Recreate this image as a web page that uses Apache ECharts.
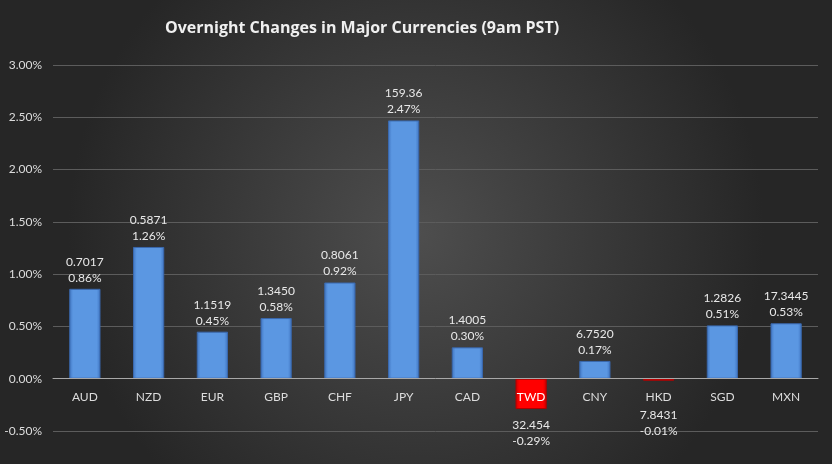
<!DOCTYPE html>
<html>
<head>
<meta charset="utf-8">
<script src="https://cdn.jsdelivr.net/npm/echarts@6/dist/echarts.min.js"></script>
<style>
  html, body { margin: 0; padding: 0; }
  #main { width: 832px; height: 464px; }
</style>
</head>
<body>
<div id="main"></div>
<script>
// currencies and overnight moves
var categories = ['AUD', 'NZD', 'EUR', 'GBP', 'CHF', 'JPY', 'CAD', 'TWD', 'CNY', 'HKD', 'SGD', 'MXN'];
var rates = ['0.7017', '0.5871', '1.1519', '1.3450', '0.8061', '159.36', '1.4005', '32.454', '6.7520', '7.8431', '1.2826', '17.3445'];
var changes = [0.86, 1.26, 0.45, 0.58, 0.92, 2.47, 0.30, -0.29, 0.17, -0.01, 0.51, 0.53];
var yTicks = [-0.5, 0, 0.5, 1, 1.5, 2, 2.5, 3];

var chartDom = document.getElementById('main');
var myChart = echarts.init(chartDom);
var font = 'Lato, "Open Sans", sans-serif';

var blueFill = new echarts.graphic.LinearGradient(0, 0, 1, 0, [
  { offset: 0, color: '#3f74c0' },
  { offset: 0.12, color: '#5b97e2' },
  { offset: 0.88, color: '#5b97e2' },
  { offset: 1, color: '#3f74c0' }
]);
var redFill = new echarts.graphic.LinearGradient(0, 0, 1, 0, [
  { offset: 0, color: '#c80000' },
  { offset: 0.12, color: '#ff0000' },
  { offset: 0.88, color: '#ff0000' },
  { offset: 1, color: '#c80000' }
]);

var barData = changes.map(function (v, i) {
  var neg = v < 0;
  return {
    value: v,
    itemStyle: {
      color: neg ? redFill : blueFill,
      borderColor: neg ? '#b00000' : '#3a68ad',
      borderWidth: 1
    },
    label: {
      position: neg ? 'bottom' : 'top',
      distance: neg ? (v > -0.05 ? 26 : 8) : 3
    }
  };
});

var gridTop = 65, gridBottom = 33, chartH = 464;
var plotH = chartH - gridTop - gridBottom;
// shift the category axis up to the zero line
var zeroShift = plotH * (0 - yTicks[0]) / (yTicks[yTicks.length - 1] - yTicks[0]);

var option = {
  backgroundColor: new echarts.graphic.RadialGradient(0.5, 0.5, 0.75, [
    { offset: 0, color: '#4e4e4e' },
    { offset: 1, color: '#262626' }
  ]),
  textStyle: { fontFamily: font },
  title: {
    text: 'Overnight Changes in Major Currencies (9am PST)',
    left: 357,
    top: 15,
    textAlign: 'center',
    textStyle: { color: '#f0f0f0', fontSize: 16, fontWeight: 'bold', fontFamily: '"Open Sans", sans-serif' }
  },
  grid: { left: 53, right: 14, top: gridTop, bottom: gridBottom, containLabel: false },
  xAxis: {
    type: 'category',
    data: categories,
    z: 10,
    offset: -zeroShift,
    axisLine: { onZero: false, lineStyle: { color: '#a8a8a8', width: 1 } },
    axisTick: { show: false },
    axisLabel: {
      interval: 0,
      color: '#dcdcdc',
      fontSize: 12,
      margin: 12,
      formatter: function (val) {
        return val === 'TWD' ? '{red|' + val + '}' : val;
      },
      rich: {
        red: { color: '#ffffff', fontSize: 12 }
      }
    }
  },
  yAxis: {
    type: 'value',
    min: yTicks[0],
    max: yTicks[yTicks.length - 1],
    interval: 0.5,
    axisLine: { show: false },
    axisTick: { show: false },
    splitLine: { lineStyle: { color: '#5c5c5c', width: 1 } },
    axisLabel: {
      color: '#dcdcdc',
      fontSize: 12,
      margin: 11,
      formatter: function (v) { return v.toFixed(2) + '%'; }
    }
  },
  series: [
    {
      type: 'bar',
      data: barData,
      barWidth: '49%',
      barMinHeight: 2,
      label: {
        show: true,
        color: '#e8e8e8',
        fontSize: 12,
        lineHeight: 16,
        formatter: function (p) {
          return rates[p.dataIndex] + '\n' + changes[p.dataIndex].toFixed(2) + '%';
        }
      }
    }
  ]
};

option && myChart.setOption(option);
</script>
</body>
</html>
